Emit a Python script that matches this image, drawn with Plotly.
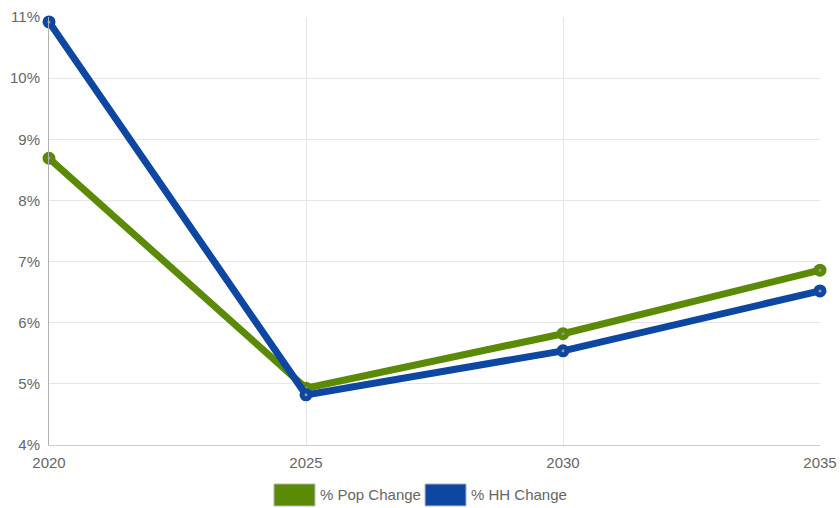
import plotly.graph_objects as go

years = [2020, 2025, 2030, 2035]
pop_change = [8.69, 4.93, 5.82, 6.86]
hh_change = [10.92, 4.82, 5.54, 6.52]
series_names = ["% Pop Change", "% HH Change"]
series_colors = ["#5b8a06", "#0d47a1"]
y_ticks = [4, 5, 6, 7, 8, 9, 10, 11]

fig = go.Figure()

for name, vals, col in zip(series_names, [pop_change, hh_change], series_colors):
    fig.add_trace(go.Scatter(
        x=years, y=vals,
        mode='lines+markers',
        name=name,
        line=dict(color=col, width=7),
        marker=dict(size=8, color='#999999', line=dict(color=col, width=5)),
        showlegend=False,
        cliponaxis=False
    ))

# hand-made legend with wide colour boxes
legend_x = [0.2918, 0.4877]
for i, (name, col) in enumerate(zip(series_names, series_colors)):
    x0 = legend_x[i]
    fig.add_shape(type='rect', xref='paper', yref='paper',
                  x0=x0, x1=x0 + 0.0532, y0=-0.091, y1=-0.1425,
                  fillcolor=col, line=dict(color='#bbbbbb', width=1))
    fig.add_annotation(text=name, xref='paper', yref='paper',
                       x=x0 + 0.0575, y=-0.1168, xanchor='left', yanchor='middle',
                       showarrow=False, font=dict(size=15, color='#666666'))

fig.update_layout(
    width=840, height=508,
    margin=dict(l=49, r=20, t=17, b=63),
    paper_bgcolor='white', plot_bgcolor='white',
    font=dict(family='Liberation Sans, Arial, sans-serif', size=15, color='#666666'),
    xaxis=dict(
        tickvals=years, range=[2020, 2035],
        showgrid=True, gridcolor='#e6e6e6', gridwidth=1,
        zeroline=False, showline=True, linecolor='#cccccc',
        ticks='', ticklen=0, automargin=False, ticklabelstandoff=4
    ),
    yaxis=dict(
        tickvals=y_ticks, ticktext=[f"{v}%" for v in y_ticks],
        range=[4, 11],
        showgrid=True, gridcolor='#e6e6e6', gridwidth=1,
        zeroline=False, showline=True, linecolor='#b0b0b0',
        ticks='', ticklen=0, automargin=False, ticklabelstandoff=5
    ),
)

fig.write_html(
    "out.html",
    config={'displayModeBar': False},
    post_script="document.body.style.margin='0';document.body.style.overflow='hidden';"
)
